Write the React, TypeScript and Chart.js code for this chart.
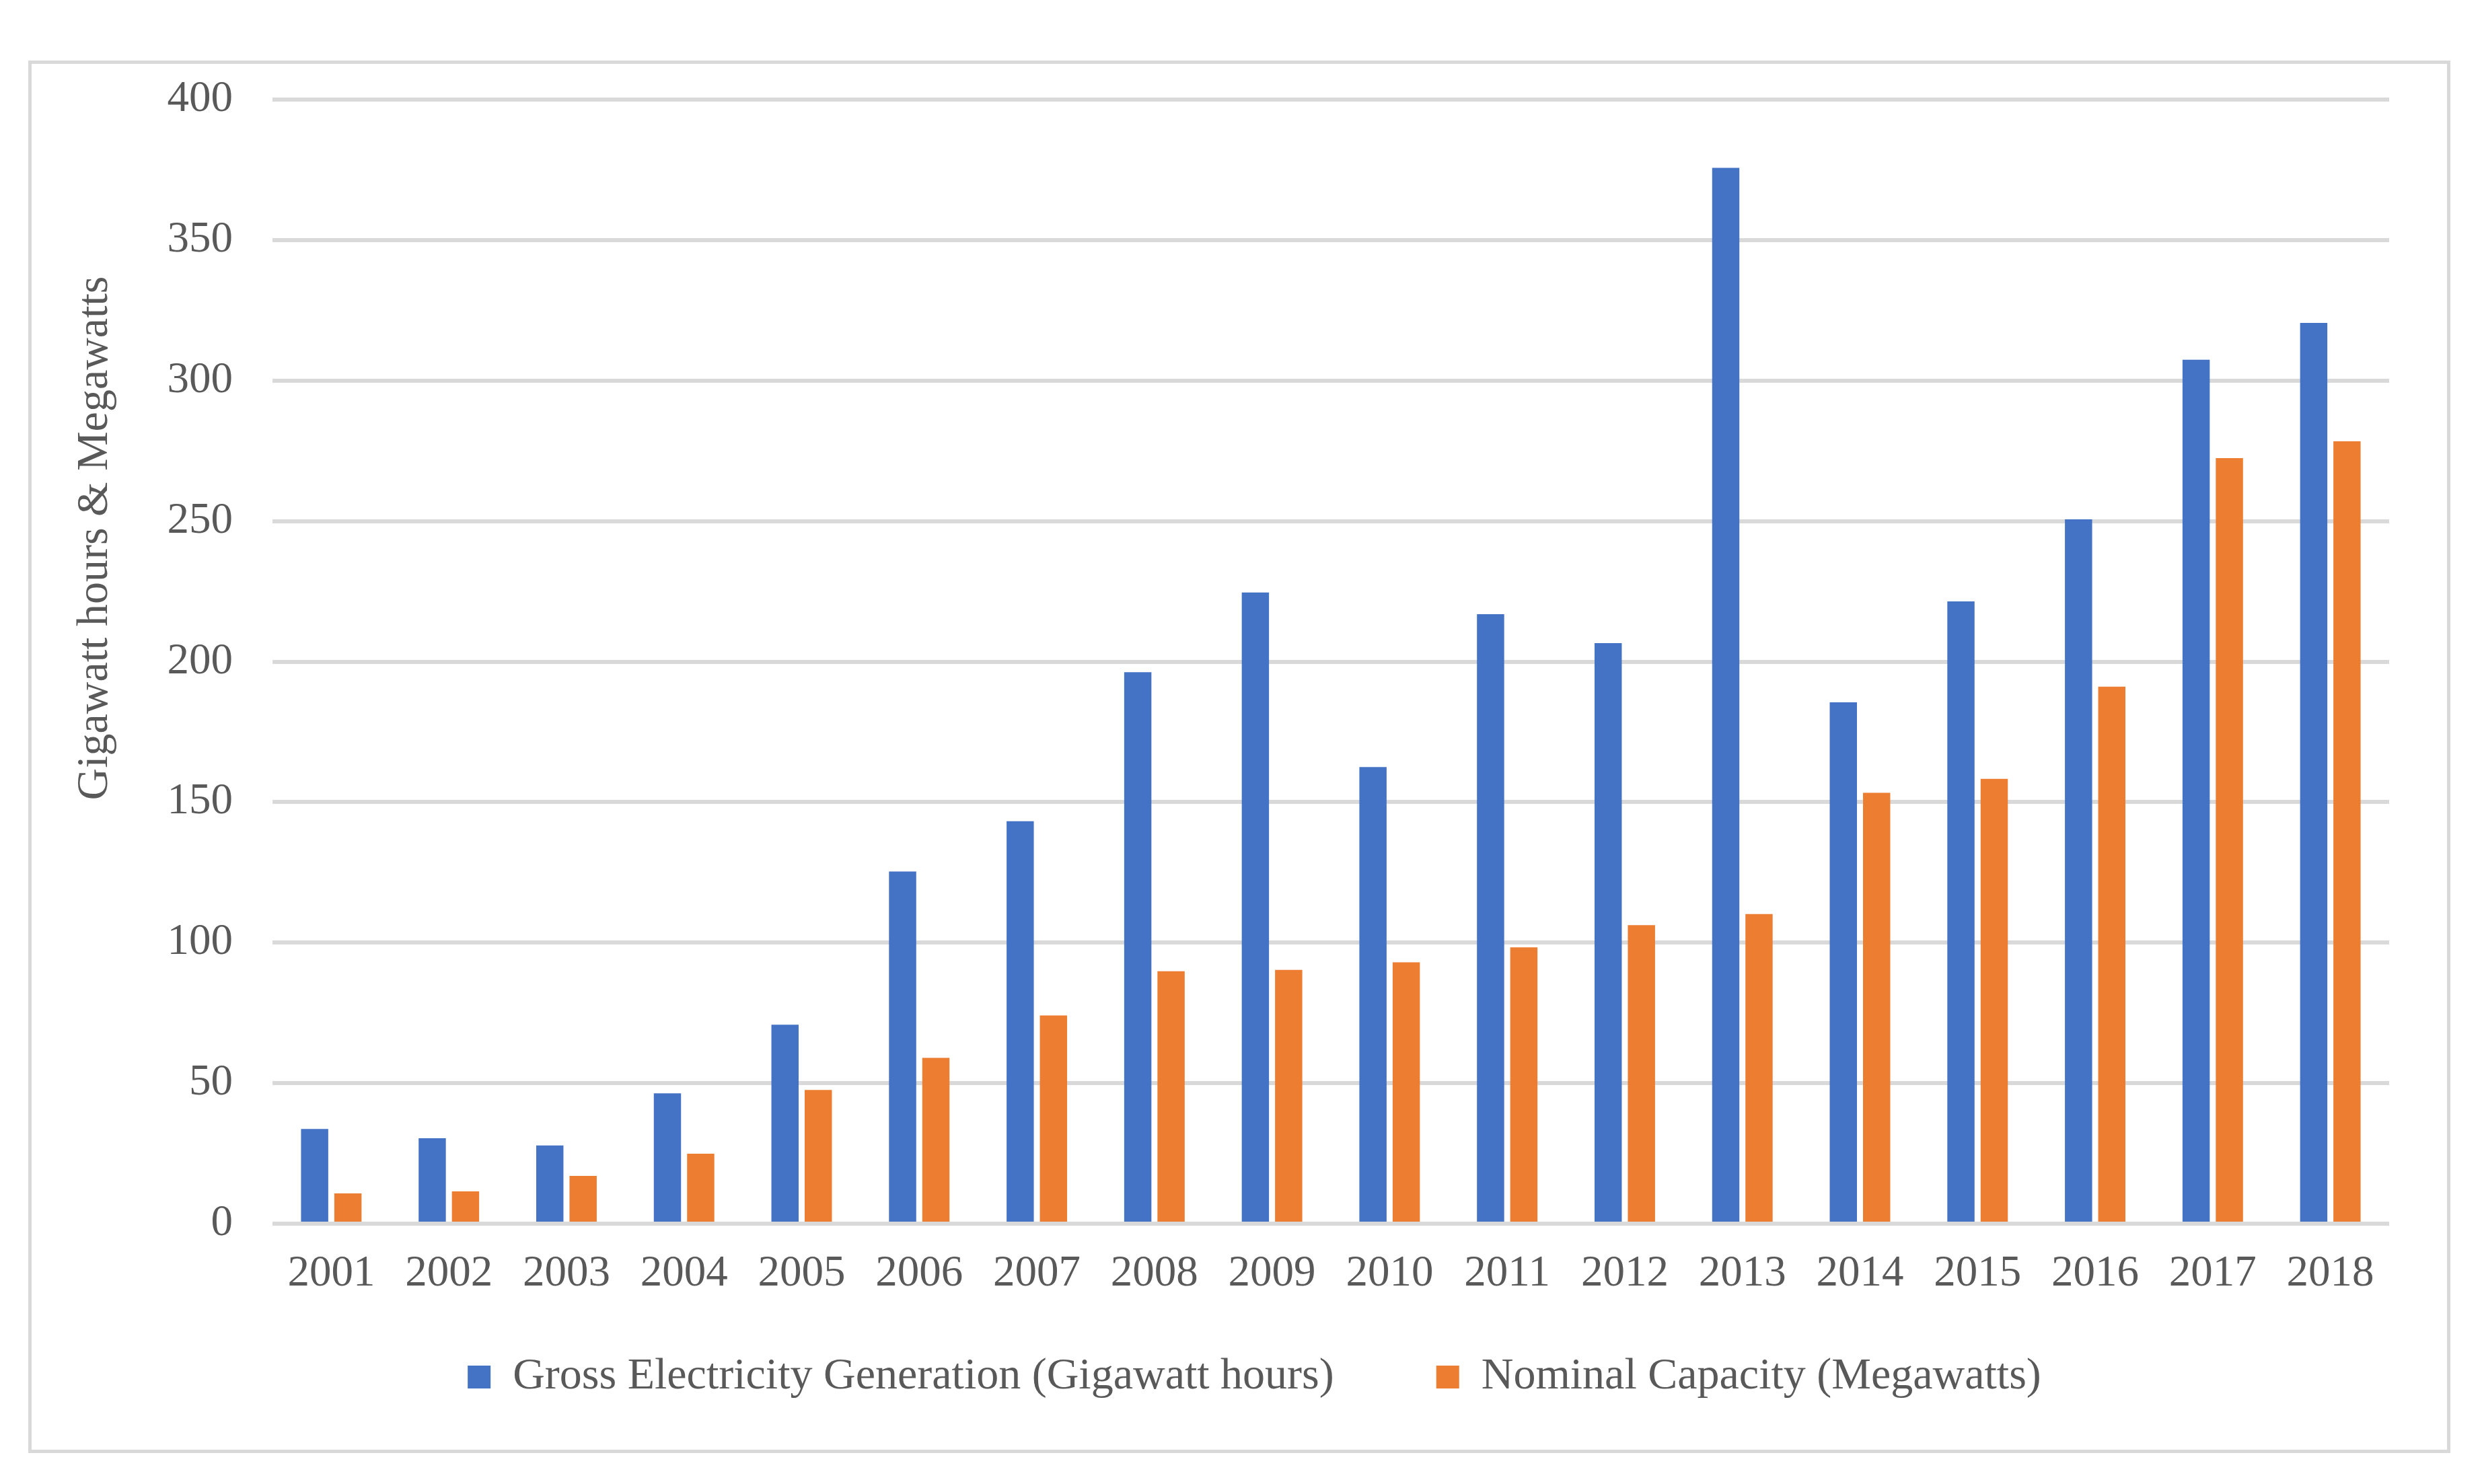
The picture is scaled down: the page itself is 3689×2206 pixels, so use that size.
import React, { useEffect, useRef } from 'react';
import Chart from 'chart.js/auto';

const years = [
  '2001', '2002', '2003', '2004', '2005', '2006', '2007', '2008', '2009',
  '2010', '2011', '2012', '2013', '2014', '2015', '2016', '2017', '2018',
];

const generationGWh = [
  33.7, 30.4, 27.8, 46.4, 70.8, 125.3, 143.2, 196.2, 224.6,
  162.5, 216.9, 206.6, 375.7, 185.5, 221.4, 250.6, 307.4, 320.5,
];

const capacityMW = [
  10.8, 11.5, 17.0, 24.9, 47.6, 59.0, 74.1, 89.8, 90.3,
  93.0, 98.3, 106.2, 110.2, 153.3, 158.3, 191.1, 272.4, 278.4,
];

const yTitle = 'Gigawatt hours & Megawatts';

const FONT = "'Liberation Serif', 'Times New Roman', serif";
const TEXT = '#595959';
const GRID = '#d9d9d9';

// draws the rotated y title where Excel puts it (not centred on the plot)
const yTitlePlugin = {
  id: 'yTitle',
  afterDraw(chart: Chart) {
    const ctx = chart.ctx;
    ctx.save();
    ctx.translate(95, 705);
    ctx.rotate(-Math.PI / 2);
    ctx.font = `66px ${FONT}`;
    ctx.fillStyle = TEXT;
    ctx.textAlign = 'center';
    ctx.textBaseline = 'middle';
    ctx.fillText(yTitle, 0, 0);
    ctx.restore();
  },
};

// the legend padding is large (for item spacing), so pull the legend up a bit
const legendShiftPlugin = {
  id: 'legendShift',
  afterLayout(chart: any) {
    const lg = chart.legend;
    if (!lg) return;
    lg.top -= 72;
    lg.bottom -= 72;
  },
};

const App: React.FC = () => {
  const chartRef = useRef<HTMLCanvasElement>(null);
  const chartInstance = useRef<Chart | null>(null);

  useEffect(() => {
    if (!chartRef.current) return;
    if (chartInstance.current) chartInstance.current.destroy();

    chartInstance.current = new Chart(chartRef.current, {
      type: 'bar',
      data: {
        labels: years,
        datasets: [
          {
            label: 'Gross Electricity Generation (Gigawatt hours)',
            data: generationGWh,
            backgroundColor: '#4472C4',
            categoryPercentage: 0.566,
            barPercentage: 0.818,
          },
          {
            label: 'Nominal Capacity (Megawatts)',
            data: capacityMW,
            backgroundColor: '#ED7D31',
            categoryPercentage: 0.566,
            barPercentage: 0.818,
          },
        ],
      },
      options: {
        animation: false,
        responsive: true,
        maintainAspectRatio: false,
        events: [],
        layout: {
          padding: { left: 131, right: 86, top: 53, bottom: 0 },
        },
        plugins: {
          tooltip: { enabled: false },
          title: { display: false },
          legend: {
            display: true,
            position: 'bottom',
            maxHeight: 221,
            labels: {
              color: TEXT,
              font: { family: FONT, size: 66 },
              boxWidth: 34,
              boxHeight: 34,
              padding: 152,
            },
          },
        },
        scales: {
          x: {
            grid: { display: false, drawTicks: false },
            border: { display: false },
            ticks: {
              color: TEXT,
              font: { family: FONT, size: 65 },
              padding: 36,
              maxRotation: 0,
              autoSkip: false,
            },
            afterFit: (scale: any) => {
              scale.height = 115;
            },
          },
          y: {
            min: 0,
            max: 400,
            grid: {
              color: GRID,
              lineWidth: 6,
              drawTicks: true,
              tickLength: 59,
              tickColor: 'rgba(0,0,0,0)',
            },
            border: { display: false },
            ticks: {
              stepSize: 50,
              color: TEXT,
              font: { family: FONT, size: 65 },
              padding: 0,
            },
            afterFit: (scale: any) => {
              scale.width = 227;
            },
          },
        },
      },
      plugins: [yTitlePlugin, legendShiftPlugin],
    });

    return () => {
      if (chartInstance.current) {
        chartInstance.current.destroy();
        chartInstance.current = null;
      }
    };
  }, []);

  return (
    <div style={{ position: 'absolute', left: 0, top: 0, width: 3689, height: 2206, background: '#fff' }}>
      <div
        style={{
          position: 'absolute',
          left: 42,
          top: 90,
          width: 3600,
          height: 2070,
          border: `5px solid ${GRID}`,
          boxSizing: 'border-box',
        }}
      >
        <div style={{ position: 'relative', width: 3590, height: 2060 }}>
          <canvas ref={chartRef} />
        </div>
      </div>
    </div>
  );
};

export default App;
